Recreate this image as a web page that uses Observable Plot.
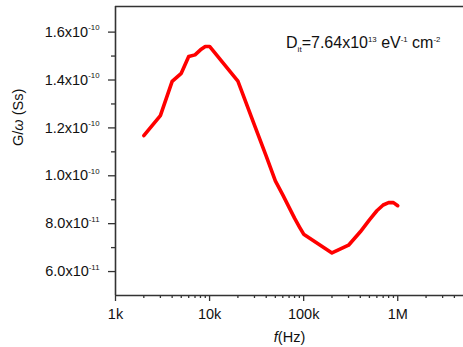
<!DOCTYPE html>
<html>
<head>
<meta charset="utf-8">
<script src="https://cdn.jsdelivr.net/npm/d3@7"></script>
<script src="https://cdn.jsdelivr.net/npm/@observablehq/plot@0.6"></script>
<style>
  html, body { margin: 0; padding: 0; background: #fff; }
</style>
</head>
<body>
<div id="chart"></div>
<script>
// Frequencies (Hz)
const freqs = [2000, 3000, 4000, 5000, 6000, 7000, 8000, 9000, 10000,
  20000, 30000, 40000, 50000, 60000, 70000, 80000, 90000, 100000,
  200000, 300000, 400000, 500000, 600000, 700000, 800000, 900000, 1000000];
// G/ω (Ss)
const gOmega = [1.168e-10, 1.251e-10, 1.394e-10, 1.428e-10, 1.498e-10, 1.505e-10, 1.526e-10, 1.540e-10, 1.540e-10,
  1.395e-10, 1.212e-10, 1.082e-10, 9.79e-11, 9.20e-11, 8.68e-11, 8.23e-11, 7.87e-11, 7.56e-11,
  6.78e-11, 7.10e-11, 7.66e-11, 8.16e-11, 8.54e-11, 8.78e-11, 8.88e-11, 8.88e-11, 8.75e-11];

const xMajorTicks = [1e3, 1e4, 1e5, 1e6];
const xMajorLabels = ["1k", "10k", "100k", "1M"];
const xMinorTicks = [2e3,3e3,4e3,5e3,6e3,7e3,8e3,9e3, 2e4,3e4,4e4,5e4,6e4,7e4,8e4,9e4,
  2e5,3e5,4e5,5e5,6e5,7e5,8e5,9e5, 2e6,3e6,4e6];
const yMajorTicks = [6e-11, 8e-11, 1.0e-10, 1.2e-10, 1.4e-10, 1.6e-10];
const yMajorLabels = ["6.0x10^{-11}", "8.0x10^{-11}", "1.0x10^{-10}", "1.2x10^{-10}", "1.4x10^{-10}", "1.6x10^{-10}"];
const yMinorTicks = [7e-11, 9e-11, 1.1e-10, 1.3e-10, 1.5e-10];

const xLabel = "*{f}(Hz)";
const yLabel = "G/*{ω} (Ss)";
const annotation = [{f: 6.5e4, g: 1.553e-10, text: "D_{it}=7.64x10^{13} eV^{-1} cm^{-2}"}];

const xDomain = [1e3, 5e6];
const yDomain = [5e-11, 1.707e-10];

const data = freqs.map((f, i) => ({f, g: gOmega[i]}));
const lookup = (ticks, labels) => d => {
  const i = ticks.findIndex(v => Math.abs(v - d) / v < 1e-6);
  return i >= 0 ? labels[i] : "";
};

const axisColor = "#333";
const chart = Plot.plot({
  width: 463,
  height: 347,
  marginLeft: 115,
  marginRight: 0,
  marginTop: 6,
  marginBottom: 52,
  style: {fontFamily: "'Liberation Sans', Arial, sans-serif", fontSize: "14.5px", color: "#111", background: "#fff", overflow: "visible"},
  x: {type: "log", domain: xDomain},
  y: {domain: yDomain},
  marks: [
    Plot.axisX({ticks: xMajorTicks, tickSize: 6, tickPadding: 7, tickFormat: lookup(xMajorTicks, xMajorLabels), label: null, stroke: axisColor, strokeWidth: 1.3, fontSize: 14.5}),
    Plot.axisX({ticks: xMinorTicks, tickSize: 3, tickFormat: () => "", label: null, stroke: axisColor, strokeWidth: 1.3}),
    Plot.axisY({ticks: yMajorTicks, tickSize: 7, tickPadding: 9, tickFormat: lookup(yMajorTicks, yMajorLabels), label: null, stroke: axisColor, strokeWidth: 1.3, fontSize: 14.5}),
    Plot.axisY({ticks: yMinorTicks, tickSize: 4, tickFormat: () => "", label: null, stroke: axisColor, strokeWidth: 1.3}),
    Plot.ruleX([xDomain[0]], {stroke: axisColor, strokeWidth: 1.6}),
    Plot.ruleY([yDomain[0]], {stroke: axisColor, strokeWidth: 1.6}),
    Plot.ruleY([yDomain[1]], {stroke: axisColor, strokeWidth: 1.6}),
    Plot.line(data, {x: "f", y: "g", stroke: "#ff0000", strokeWidth: 3.6, strokeLinejoin: "round", strokeLinecap: "round"}),
    Plot.text(annotation, {x: "f", y: "g", text: "text", textAnchor: "start", fontSize: 16, fill: "#111"}),
    Plot.text([xLabel], {frameAnchor: "bottom", dy: 46, text: d => d, fontSize: 14.5, fill: "#111"}),
    Plot.text([yLabel], {frameAnchor: "left", dx: -97, dy: -5, rotate: -90, text: d => d, fontSize: 14.5, fill: "#111"})
  ]
});

// Turn the small markup (^{sup}, _{sub}, *{italic}) into tspans
chart.querySelectorAll("text").forEach(t => {
  const s = t.textContent;
  if (!/[\^_*]\{/.test(s)) return;
  const fs = parseFloat(getComputedStyle(t).fontSize) || 14;
  const parts = s.split(/(\^\{[^}]*\}|_\{[^}]*\}|\*\{[^}]*\})/).filter(p => p !== "");
  t.textContent = "";
  let shift = 0;
  for (const p of parts) {
    const ts = document.createElementNS("http://www.w3.org/2000/svg", "tspan");
    let target = 0, content = p;
    if (p.startsWith("^{")) { content = p.slice(2, -1); target = -0.45 * fs; ts.setAttribute("font-size", (0.56 * fs) + "px"); }
    else if (p.startsWith("_{")) { content = p.slice(2, -1); target = 0.25 * fs; ts.setAttribute("font-size", (0.58 * fs) + "px"); }
    else if (p.startsWith("*{")) { content = p.slice(2, -1); ts.setAttribute("font-style", "italic"); }
    const dy = target - shift;
    if (dy !== 0) ts.setAttribute("dy", dy + "px");
    shift = target;
    ts.textContent = content;
    t.appendChild(ts);
  }
});

document.getElementById("chart").appendChild(chart);
</script>
</body>
</html>
